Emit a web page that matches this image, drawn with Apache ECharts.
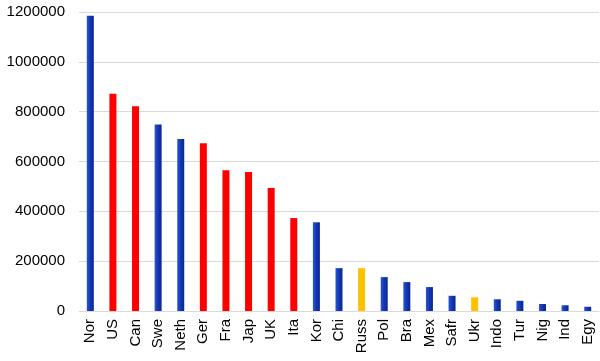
<!DOCTYPE html>
<html><head><meta charset="utf-8">
<script src="https://cdn.jsdelivr.net/npm/echarts@6/dist/echarts.min.js"></script>
<style>html,body{margin:0;padding:0;background:#fff}#c{width:600px;height:361px}</style>
</head><body><div id="c"></div>
<script>
var categories = ['Nor','US','Can','Swe','Neth','Ger','Fra','Jap','UK','Ita','Kor','Chi','Russ','Pol','Bra','Mex','Safr','Ukr','Indo','Tur','Nig','Ind','Egy'];
var values = [1185000,872000,822000,748000,690000,673000,565000,558000,494000,373000,356000,172000,172000,136000,116000,96000,61000,55000,47000,41000,28000,23000,17000];
var groups = ['b','r','r','b','b','r','r','r','r','r','b','b','o','b','b','b','b','o','b','b','b','b','b'];
var yTicks = [0,200000,400000,600000,800000,1000000,1200000];

var blue = new echarts.graphic.LinearGradient(0,0,1,0,[{offset:0,color:'#2a55d8'},{offset:0.5,color:'#1336b0'},{offset:1,color:'#0a2590'}]);
var colorMap = {b: blue, r: '#ff0000', o: '#ffc000'};
var data = values.map(function(v,i){ return {value:v, itemStyle:{color: colorMap[groups[i]]}}; });

var chart = echarts.init(document.getElementById('c'));
chart.setOption({
  animation:false,
  grid:{left:79,right:1,top:12,bottom:50,containLabel:false},
  xAxis:{type:'category',data:categories,
    axisLine:{lineStyle:{color:'#d9d9d9'}},axisTick:{show:false},
    axisLabel:{rotate:90,interval:0,color:'#000',fontSize:15,fontFamily:'Liberation Sans',margin:8}},
  yAxis:{type:'value',min:yTicks[0],max:yTicks[yTicks.length-1],interval:yTicks[1]-yTicks[0],
    axisLine:{show:false},axisTick:{show:false},
    splitLine:{lineStyle:{color:'#d9d9d9'}},
    axisLabel:{color:'#000',fontSize:15,fontFamily:'Liberation Sans',margin:14,formatter:function(v){return String(v);}}},
  series:[{type:'bar',data:data,barWidth:7}]
});
</script></body></html>
